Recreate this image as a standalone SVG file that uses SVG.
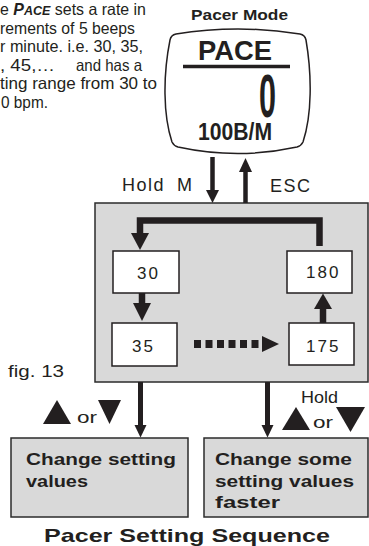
<svg xmlns="http://www.w3.org/2000/svg" width="369" height="546" viewBox="0 0 369 546">
<style>
.para{font-family:"Liberation Sans",Arial,sans-serif;font-size:16.5px;fill:#231f20}
.lbl{font-family:"Liberation Sans",Arial,sans-serif;font-size:18px;fill:#231f20;letter-spacing:1.5px}
.num{font-family:"Liberation Sans",Arial,sans-serif;font-size:17px;fill:#231f20;letter-spacing:2px}
.bold{font-family:"Liberation Sans",Arial,sans-serif;font-weight:bold;fill:#231f20}
.lcd{font-family:"Liberation Sans",Arial,sans-serif;font-weight:bold;fill:#231f20}
.box{fill:#d9d9d9;stroke:#2b2b2b;stroke-width:1.5}
.wbox{fill:#ffffff;stroke:#231f20;stroke-width:1.5}
.shaft{stroke:#231f20;fill:none}
.head{fill:#231f20}
</style>
<rect width="369" height="546" fill="#ffffff"/>

<g id="description">
<text class="para" x="0" y="15" textLength="146" lengthAdjust="spacingAndGlyphs">e <tspan font-weight="bold" font-style="italic" font-size="16.5">P</tspan><tspan font-weight="bold" font-style="italic" font-size="13">ACE</tspan> sets a rate in</text>
<text class="para" x="0" y="33.6" textLength="135" lengthAdjust="spacingAndGlyphs">rements of 5 beeps</text>
<text class="para" x="0" y="52.2" textLength="143" lengthAdjust="spacingAndGlyphs">r minute. i.e. 30, 35,</text>
<text class="para" x="0" y="70.8" textLength="55" lengthAdjust="spacingAndGlyphs">, 45,…</text>
<text class="para" x="76" y="70.8" textLength="66" lengthAdjust="spacingAndGlyphs">and has a</text>
<text class="para" x="0" y="89.4" textLength="157" lengthAdjust="spacingAndGlyphs">ting range from 30 to</text>
<text class="para" x="1" y="108" textLength="47" lengthAdjust="spacingAndGlyphs">0 bpm.</text>
</g>

<g id="pacer-mode">
<text class="bold" x="191" y="20" font-size="15" textLength="97" lengthAdjust="spacingAndGlyphs">Pacer Mode</text>
<path class="wbox" d="M176,34 Q238,24 300,34 Q305,35 306,40 C312,75 312,115 303,142 Q301,146 297,147 Q238,160 178,147 Q174,146 172,142 C163,115 163,75 170,40 Q171,35 176,34 Z"/>
<text class="lcd" x="198" y="60" font-size="28" textLength="74" lengthAdjust="spacingAndGlyphs">PACE</text>
<line x1="183" y1="66.5" x2="290" y2="66.5" stroke="#231f20" stroke-width="3.5"/>
<text class="lcd" x="259" y="117" font-size="62" textLength="17" lengthAdjust="spacingAndGlyphs">0</text>
<text class="lcd" x="198" y="140" font-size="24" textLength="74" lengthAdjust="spacingAndGlyphs">100B/M</text>
</g>

<g id="setting-panel">
<rect class="box" x="95" y="203" width="273" height="179"/>
</g>

<g id="n30"><rect class="wbox" x="113" y="251" width="66" height="42"/><text class="num" x="137" y="279">30</text></g>
<g id="n35"><rect class="wbox" x="112" y="323" width="65" height="43"/><text class="num" x="132" y="352">35</text></g>
<g id="n180"><rect class="wbox" x="287" y="251" width="65" height="42"/><text class="num" x="306" y="278">180</text></g>
<g id="n175"><rect class="wbox" x="289" y="323" width="65" height="42"/><text class="num" x="306" y="352">175</text></g>

<g id="change-values">
<rect class="box" x="11" y="438" width="177" height="79"/>
<text class="bold" font-size="17" x="26" y="465" textLength="150" lengthAdjust="spacingAndGlyphs">Change setting</text>
<text class="bold" font-size="17" x="26" y="486.5" textLength="62" lengthAdjust="spacingAndGlyphs">values</text>
</g>

<g id="change-faster">
<rect class="box" x="204" y="438" width="164" height="79"/>
<text class="bold" font-size="17" x="215" y="465" textLength="137" lengthAdjust="spacingAndGlyphs">Change some</text>
<text class="bold" font-size="17" x="215" y="486.5" textLength="139" lengthAdjust="spacingAndGlyphs">setting values</text>
<text class="bold" font-size="17" x="215" y="508" textLength="65" lengthAdjust="spacingAndGlyphs">faster</text>
</g>

<g id="connectors">
<line class="shaft" x1="212.5" y1="157" x2="212.5" y2="191" stroke-width="4.5"/>
<polygon class="head" points="206,190 219,190 212.5,203"/>
<line class="shaft" x1="245.5" y1="203" x2="245.5" y2="171" stroke-width="4.5"/>
<polygon class="head" points="239,172 252,172 245.5,158"/>
<text class="lbl" x="122" y="191">Hold <tspan x="177">M</tspan></text>
<text class="lbl" x="270" y="192" letter-spacing="2">ESC</text>

<path class="shaft" d="M319.5,246 V220.5 H140 V234" stroke-width="6.5"/>
<polygon class="head" points="131,233 149,233 140,250"/>

<line class="shaft" x1="142" y1="293" x2="142" y2="304" stroke-width="6.5"/>
<polygon class="head" points="133,303 151,303 142,321"/>

<line class="shaft" x1="323" y1="323" x2="323" y2="308" stroke-width="6.5"/>
<polygon class="head" points="314,309 332,309 323,293.5"/>

<line class="shaft" x1="194" y1="344" x2="259" y2="344" stroke-width="8" stroke-dasharray="7 4.5"/>
<polygon class="head" points="262,336 262,352 279,344"/>

<line class="shaft" x1="140.5" y1="382" x2="140.5" y2="426" stroke-width="5"/>
<polygon class="head" points="134.5,425 146.5,425 140.5,437.5"/>
<line class="shaft" x1="267.5" y1="382" x2="267.5" y2="426" stroke-width="5"/>
<polygon class="head" points="261.5,425 273.5,425 267.5,437.5"/>

<polygon class="head" points="43,424 57,400 71,424"/>
<text class="para" x="77" y="423" font-size="30" textLength="20" lengthAdjust="spacingAndGlyphs">or</text>
<polygon class="head" points="98,400 121,400 109.5,424"/>

<text class="para" x="301" y="403" font-size="22" textLength="37" lengthAdjust="spacingAndGlyphs">Hold</text>
<polygon class="head" points="282,430 296,407 310,430"/>
<text class="para" x="313" y="428" font-size="30" textLength="20" lengthAdjust="spacingAndGlyphs">or</text>
<polygon class="head" points="336,407 365,407 350.5,432"/>
</g>

<text class="para" x="8" y="377" font-size="21" textLength="56" lengthAdjust="spacingAndGlyphs">fig. 13</text>
<text class="bold" x="44" y="542" font-size="18.5" textLength="286" lengthAdjust="spacingAndGlyphs">Pacer Setting Sequence</text>
</svg>
